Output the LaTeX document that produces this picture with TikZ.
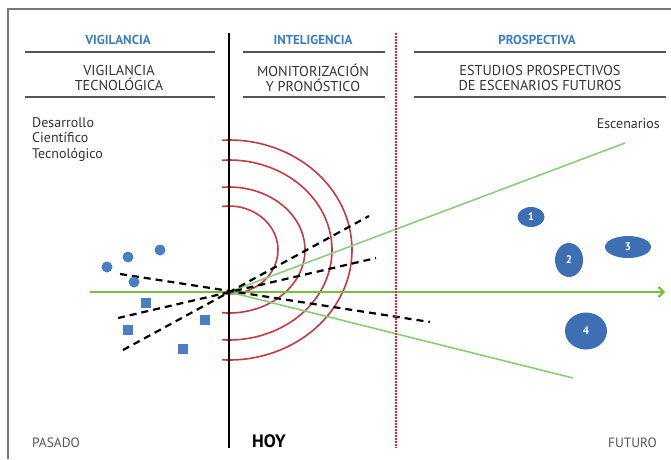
\documentclass[tikz,border=0pt]{standalone}
\usepackage{fontspec}
\setmainfont{PT Sans}
\usetikzlibrary{arrows.meta,shapes.geometric}
\definecolor{hblue}{HTML}{3B7DC4}
\definecolor{dotblue}{HTML}{4A7EC2}
\definecolor{ellblue}{HTML}{3E6FB3}
\definecolor{arcred}{HTML}{C23A42}
\definecolor{dred}{HTML}{E0282E}
\definecolor{mgreen}{HTML}{72BF44}
\definecolor{lgreen}{HTML}{8DCB7E}
\definecolor{txtgray}{HTML}{333333}
\definecolor{rulegray}{HTML}{555555}
\begin{document}
\begin{tikzpicture}[x=1pt,y=-1pt,
  head/.style={font=\fontsize{13}{14}\selectfont\bfseries, text=hblue},
  subhead/.style={align=center, font=\fontsize{14.3}{15}\selectfont, text=txtgray},
  rulel/.style={draw=rulegray, line width=1.2pt},
  dashl/.style={black, line width=2.2pt, dash pattern=on 7pt off 5pt},
  arcl/.style={arcred, line width=1.6pt},
  circ/.style={circle, fill=dotblue, minimum size=11pt, inner sep=0pt},
  sq/.style={rectangle, fill=dotblue, minimum size=10pt, inner sep=0pt},
  scen/.style={ellipse, fill=ellblue, text=white, inner sep=0pt, font=\fontsize{11}{11}\selectfont\bfseries},
  lbl/.style={font=\fontsize{14}{15.5}\selectfont, text=txtgray, inner sep=0pt}]
\useasboundingbox (0,0) rectangle (671,459);
% frame
\draw[rulegray!80, line width=1.3pt] (8,459) -- (8,9) -- (671,9);
% headers
\node[head] (h1) at (118,40) {VIGILANCIA};
\node[head] (h2) at (313,40) {INTELIGENCIA};
\node[head] (h3) at (537,40) {PROSPECTIVA};
\draw[rulel] (25,52) -- (215,52);
\draw[rulel] (243,52) -- (385,52);
\draw[rulel] (414,52) -- (666,52);
\node[subhead] (s1) at (119,77.5) {VIGILANCIA\\TECNOLÓGICA};
\node[subhead] (s2) at (313,77.5) {MONITORIZACIÓN\\Y PRONÓSTICO};
\node[subhead] (s3) at (540,77.5) {ESTUDIOS PROSPECTIVOS\\DE ESCENARIOS FUTUROS};
\draw[rulel] (25,97) -- (215,97);
\draw[rulel] (243,97) -- (385,97);
\draw[rulel] (414,97) -- (666,97);
% side labels
\node[lbl, align=left, anchor=north west] (des) at (32,117) {Desarrollo\\Científico\\Tecnológico};
\node[lbl, anchor=east] (esc) at (660,124) {Escenarios};
% red arcs (centre 229,250)
\foreach \rx/\ry in {49/44, 76/63, 103/90, 123/110}{
  \pgfmathsetmacro{\a}{90+asin(7/\rx)}
  \draw[arcl] (229,250) ++({\rx*cos(-\a)},{\ry*sin(-\a)}) arc[start angle=-\a, end angle=\a, x radius=\rx, y radius=\ry];
}
% key points
\coordinate (hoy) at (229,292);
\coordinate (gS) at (90,292);
\coordinate (gE) at (665,292);
\coordinate (gU) at (625,143);
\coordinate (gL) at (573,378);
\coordinate (d1s) at (120,274);
\coordinate (d1e) at (430,322);
\coordinate (d2s) at (118,318);
\coordinate (d2e) at (376,258);
\coordinate (d3s) at (123,350);
\coordinate (d3e) at (369,216);
% green lines
\draw[lgreen, line width=1.6pt] (hoy) -- (gU);
\draw[lgreen, line width=1.6pt] (hoy) -- (gL);
\draw[mgreen, line width=2.2pt, -{Straight Barb[length=5pt,width=10pt,line width=2pt]}] (gS) -- (gE);
% dashed lines
\draw[dashl] (d1s) -- (d1e);
\draw[dashl] (d2s) -- (d2e);
\draw[dashl] (d3s) -- (d3e);
% blue points
\node[circ] (c1) at (107,267) {};
\node[circ] (c2) at (128,257) {};
\node[circ] (c3) at (160,250) {};
\node[circ] (c4) at (134,282) {};
\node[sq] (q1) at (146,303) {};
\node[sq] (q2) at (128,330) {};
\node[sq] (q3) at (205,320) {};
\node[sq] (q4) at (183,349) {};
% scenarios
\node[scen, minimum width=27pt, minimum height=20pt] (e1) at (531,217) {1};
\node[scen, minimum width=28pt, minimum height=34pt] (e2) at (569,260) {2};
\node[scen, minimum width=46pt, minimum height=22pt] (e3) at (628,247) {3};
\node[scen, minimum width=42pt, minimum height=37pt] (e4) at (586,331) {4};
% timeline dividers
\draw[black, line width=2pt] (229,33) -- (229,448);
\draw[dred, line width=1.5pt, dash pattern=on 1.5pt off 1.5pt] (396,33) -- (396,448);
% bottom labels
\node[lbl, font=\fontsize{13.5}{15}\selectfont, text=rulegray, anchor=west] (pas) at (32,443) {PASADO};
\node[lbl, font=\fontsize{18}{18}\selectfont\bfseries, text=black, anchor=west] (hoyl) at (252,441) {HOY};
\node[lbl, font=\fontsize{13.5}{15}\selectfont, text=rulegray, anchor=east] (fut) at (657,443) {FUTURO};
\end{tikzpicture}
\end{document}
